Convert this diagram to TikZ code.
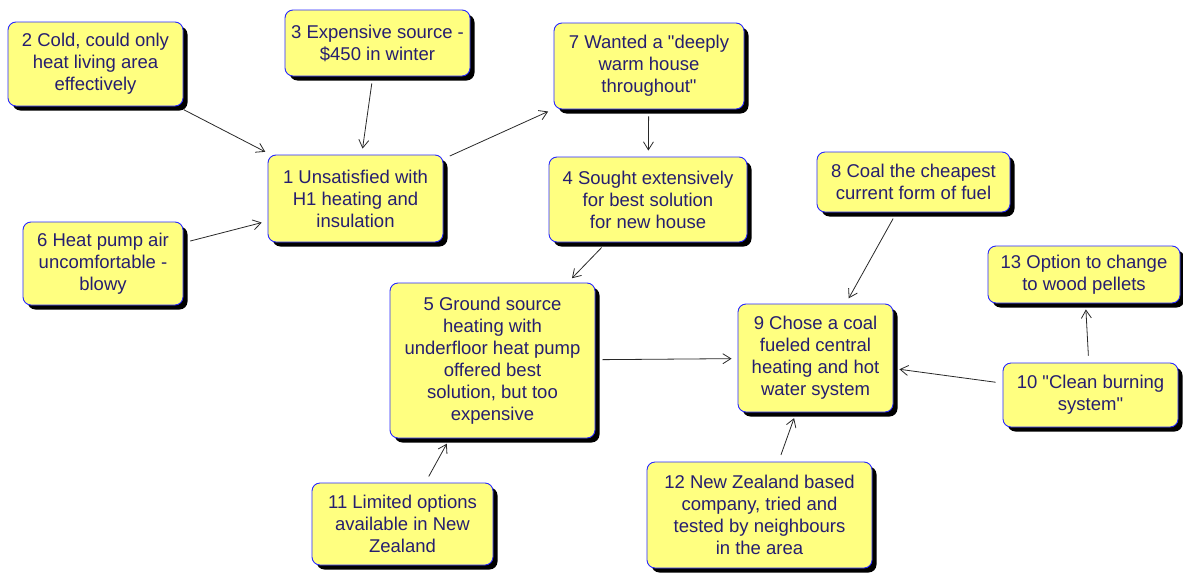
\documentclass[tikz,border=0pt]{standalone}
\usepackage{fontspec}
\setmainfont{Liberation Sans}[Ligatures=TeXOff]
\usetikzlibrary{arrows.meta,shadows}
\definecolor{notefill}{RGB}{255,255,128}
\definecolor{noteedge}{RGB}{40,40,255}
\definecolor{notetext}{RGB}{38,30,112}
\definecolor{linkcol}{RGB}{40,40,40}
\tikzset{
  note/.style={draw=noteedge, line width=0.9pt, fill=notefill, rounded corners=8pt,
    text=notetext, align=center, inner sep=0pt,
    font=\fontsize{18.5}{22}\selectfont,
    drop shadow={shadow xshift=4.5pt, shadow yshift=-4.5pt, fill=black, opacity=1}},
  link/.style={draw=linkcol, line width=0.8pt,
    -{Straight Barb[length=8pt,width=10pt,line width=0.8pt]},
    shorten <=7pt, shorten >=6pt}
}
\newcommand{\notebox}[6]{% name, x, y, width, height, text
  \node[note, minimum width=#4pt, minimum height=#5pt] (#1) at (#2pt,-#3pt) {#6};}
\begin{document}
\begin{tikzpicture}[x=1pt,y=1pt]
  \useasboundingbox (0,0) rectangle (1183,-573);
  \notebox{n2}{95.5}{64}{175}{84}{2 Cold, could only\\heat living area\\effectively}
  \notebox{n3}{377.5}{43}{185}{66}{3 Expensive source -\\\$450 in winter}
  \notebox{n7}{649}{66}{190}{86}{7 Wanted a "deeply\\warm house\\throughout"}
  \notebox{n1}{355.5}{198.5}{175}{87}{1 Unsatisfied with\\H1 heating and\\insulation}
  \notebox{n4}{648}{199.5}{198}{85}{4 Sought extensively\\for best solution\\for new house}
  \notebox{n6}{103}{263.5}{160}{83}{6 Heat pump air\\uncomfortable -\\blowy}
  \notebox{n8}{913.5}{182}{193}{60}{8 Coal the cheapest\\current form of fuel}
  \notebox{n13}{1084}{274.5}{192}{57}{13 Option to change\\to wood pellets}
  \notebox{n5}{492.5}{360.5}{205}{155}{5 Ground source\\heating with\\underfloor heat pump\\offered best\\solution, but too\\expensive}
  \notebox{n9}{815.5}{358}{155}{108}{9 Chose a coal\\fueled central\\heating and hot\\water system}
  \notebox{n10}{1090.5}{395}{175}{64}{10 "Clean burning\\system"}
  \notebox{n11}{402.5}{524}{181}{82}{11 Limited options\\available in New\\Zealand}
  \notebox{n12}{759.5}{515}{225}{106}{12 New Zealand based\\company, tried and\\tested by neighbours\\in the area}

  \draw[link] (n2) -- (n1);
  \draw[link] (n3) -- (n1);
  \draw[link] (n6) -- (n1);
  \draw[link] (n1) -- (n7);
  \draw[link] (n7) -- (n4);
  \draw[link] (n4) -- (n5);
  \draw[link] (n5) -- (n9);
  \draw[link] (n8) -- (n9);
  \draw[link] (n10) -- (n9);
  \draw[link] (n10) -- (n13);
  \draw[link] (n11) -- (n5);
  \draw[link] (n12) -- (n9);
\end{tikzpicture}
\end{document}
